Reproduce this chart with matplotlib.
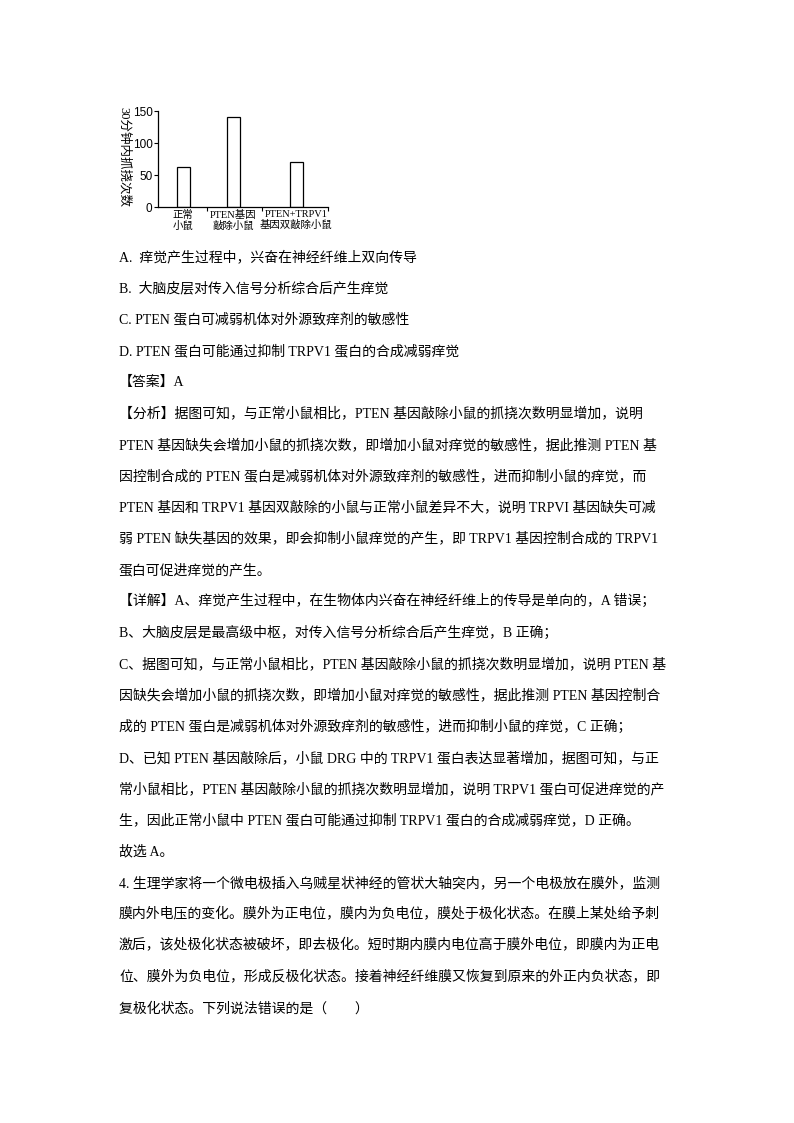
import matplotlib
matplotlib.use("Agg")
import matplotlib.pyplot as plt

# chart data
groups = ["正常\n小鼠", "PTEN基因\n敲除小鼠", "PTEN+TRPV1\n基因双敲除小鼠"]
counts = [63, 140, 70]
y_ticks = [0, 50, 100, 150]
y_label = "30分钟内抓挠次数"

# page text, one entry per printed line
lines = [
    "A.  痒觉产生过程中，兴奋在神经纤维上双向传导",
    "B.  大脑皮层对传入信号分析综合后产生痒觉",
    "C. PTEN 蛋白可减弱机体对外源致痒剂的敏感性",
    "D. PTEN 蛋白可能通过抑制 TRPV1 蛋白的合成减弱痒觉",
    "【答案】A",
    "【分析】据图可知，与正常小鼠相比，PTEN 基因敲除小鼠的抓挠次数明显增加，说明",
    "PTEN 基因缺失会增加小鼠的抓挠次数，即增加小鼠对痒觉的敏感性，据此推测 PTEN 基",
    "因控制合成的 PTEN 蛋白是减弱机体对外源致痒剂的敏感性，进而抑制小鼠的痒觉，而",
    "PTEN 基因和 TRPV1 基因双敲除的小鼠与正常小鼠差异不大，说明 TRPVI 基因缺失可减",
    "弱 PTEN 缺失基因的效果，即会抑制小鼠痒觉的产生，即 TRPV1 基因控制合成的 TRPV1",
    "蛋白可促进痒觉的产生。",
    "【详解】A、痒觉产生过程中，在生物体内兴奋在神经纤维上的传导是单向的，A 错误；",
    "B、大脑皮层是最高级中枢，对传入信号分析综合后产生痒觉，B 正确；",
    "C、据图可知，与正常小鼠相比，PTEN 基因敲除小鼠的抓挠次数明显增加，说明 PTEN 基",
    "因缺失会增加小鼠的抓挠次数，即增加小鼠对痒觉的敏感性，据此推测 PTEN 基因控制合",
    "成的 PTEN 蛋白是减弱机体对外源致痒剂的敏感性，进而抑制小鼠的痒觉，C 正确；",
    "D、已知 PTEN 基因敲除后，小鼠 DRG 中的 TRPV1 蛋白表达显著增加，据图可知，与正",
    "常小鼠相比，PTEN 基因敲除小鼠的抓挠次数明显增加，说明 TRPV1 蛋白可促进痒觉的产",
    "生，因此正常小鼠中 PTEN 蛋白可能通过抑制 TRPV1 蛋白的合成减弱痒觉，D 正确。",
    "故选 A。",
    "4. 生理学家将一个微电极插入乌贼星状神经的管状大轴突内，另一个电极放在膜外，监测",
    "膜内外电压的变化。膜外为正电位，膜内为负电位，膜处于极化状态。在膜上某处给予刺",
    "激后，该处极化状态被破坏，即去极化。短时期内膜内电位高于膜外电位，即膜内为正电",
    "位、膜外为负电位，形成反极化状态。接着神经纤维膜又恢复到原来的外正内负状态，即",
    "复极化状态。下列说法错误的是（　　）",
]

FONTS = ["Liberation Serif", "Noto Sans CJK SC"]
plt.rcParams["font.family"] = FONTS

W, H = 794, 1123
fig = plt.figure(figsize=(W / 100, H / 100), dpi=100)
fig.patch.set_facecolor("white")


def fx(x):
    return x / W


def fy(y):
    return 1 - y / H


# bar chart, placed in page pixels
ax = fig.add_axes([fx(158), fy(207), (328 - 158) / W, (207 - 111) / H])
edges = [0, 49, 104, 170]
centers = [25, 75, 138]
ax.bar(centers, counts, width=13, color="white", edgecolor="black", linewidth=0.9)
ax.set_xlim(0, 170)
ax.set_ylim(0, 150)
ax.set_yticks(y_ticks)
ax.set_yticklabels([str(t) for t in y_ticks], fontsize=8.5, family=["Liberation Sans"])
ax.set_xticks(edges[1:])
ax.set_xticklabels([])
ax.set_xticks(centers, minor=True)
ax.set_xticklabels(groups, minor=True, fontsize=7.5, linespacing=1.15)
ax.tick_params(axis="x", which="major", direction="out", length=3, width=0.8)
ax.tick_params(axis="x", which="minor", length=0, pad=2)
ax.tick_params(axis="y", direction="out", length=3, width=0.8, pad=1)
for side in ["top", "right"]:
    ax.spines[side].set_visible(False)
for side in ["left", "bottom"]:
    ax.spines[side].set_linewidth(0.9)
fig.text(fx(124), fy(157), y_label, rotation=270, ha="center", va="center", fontsize=9)

# page text
y0, step = 256, 31.3
for i, s in enumerate(lines):
    fig.text(fx(119), fy(y0 + step * i + 5), s, ha="left", va="baseline",
             fontsize=10, color="black")

fig.savefig("out.png", dpi=100, facecolor="white")
